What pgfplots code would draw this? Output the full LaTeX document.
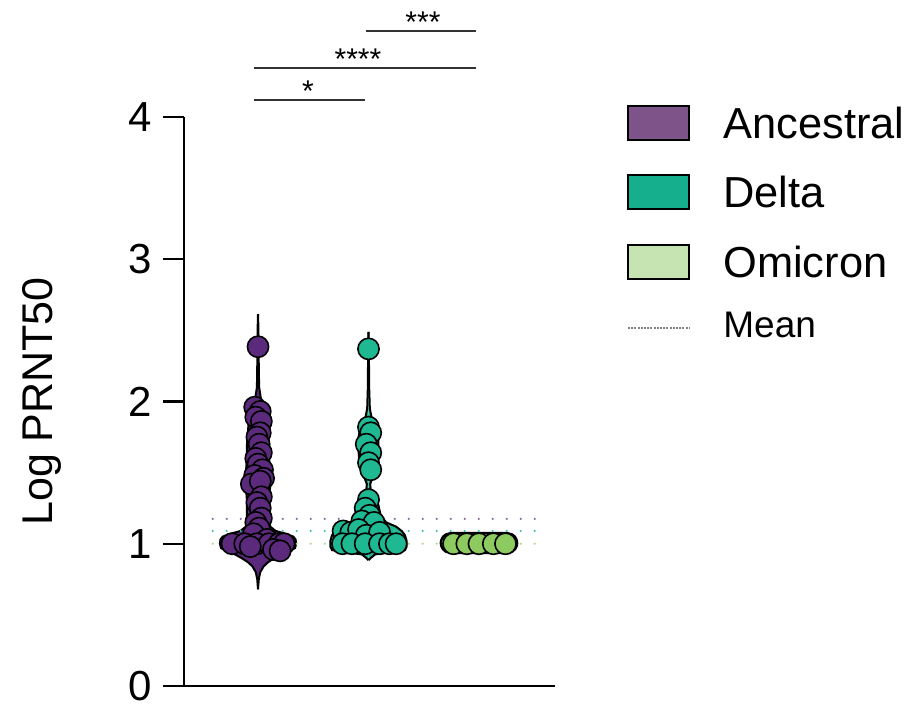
\documentclass[border=0pt]{standalone}
\usepackage{pgfplots}
\usepackage{pgfplotstable}
\pgfplotsset{compat=1.18}
\usepackage{fontspec}
\setmainfont{Liberation Sans}
\definecolor{ancP}{HTML}{5C2A7C}
\definecolor{delP}{HTML}{1EB993}
\definecolor{omiP}{HTML}{8DCB60}
\definecolor{ancL}{HTML}{7D5389}
\definecolor{delL}{HTML}{15AF8E}
\definecolor{omiL}{HTML}{C5E4B1}
\definecolor{ancM}{HTML}{8E6BA0}
\definecolor{delM}{HTML}{3CC3A5}
\definecolor{omiM}{HTML}{A6D88A}

% violin half-width profiles: v = Log PRNT50, w = half width (x units)
\pgfplotstableread{
v w
2.615 0
2.5 0.004
2.3 0.006
2.1 0.01
2.0 0.03
1.95 0.06
1.9 0.08
1.8 0.09
1.7 0.10
1.6 0.10
1.5 0.11
1.4 0.11
1.3 0.10
1.2 0.10
1.12 0.11
1.09 0.16
1.07 0.25
1.05 0.32
1.03 0.34
1.0 0.345
0.97 0.335
0.945 0.28
0.93 0.22
0.9 0.15
0.87 0.09
0.84 0.05
0.8 0.02
0.75 0.007
0.68 0
}\ancV
\pgfplotstableread{
v w
2.49 0
2.3 0.004
2.1 0.006
1.95 0.012
1.88 0.03
1.84 0.07
1.75 0.09
1.65 0.09
1.55 0.08
1.47 0.04
1.42 0.015
1.38 0.02
1.34 0.05
1.27 0.09
1.2 0.11
1.15 0.16
1.12 0.25
1.09 0.30
1.06 0.33
1.02 0.345
0.98 0.345
0.955 0.33
0.94 0.2
0.925 0.06
0.9 0.02
0.885 0
}\delV
\pgfplotstableread{
v w
1.075 0
1.075 0.255
1.065 0.301
1.05 0.324
1.035 0.336
1.02 0.343
1.005 0.345
0.99 0.343
0.975 0.336
0.96 0.324
0.945 0.301
0.935 0.255
0.935 0
}\omiV

\begin{document}
\begin{tikzpicture}
\useasboundingbox (0,0) rectangle (456pt,-352.5pt);
\begin{axis}[
  at={(92pt,-343pt)}, anchor=south west,
  scale only axis, width=185.5pt, height=284.5pt,
  xmin=0.33, xmax=3.688, ymin=0, ymax=4,
  axis x line=bottom, axis y line=left,
  axis line style={-, line width=1.1pt, black},
  xtick=\empty, ytick={0,1,2,3,4},
  tick align=outside, major tick length=10.5pt,
  ytick style={line width=1.1pt, black},
  /pgf/number format/assume math mode=true,
  yticklabel style={font=\fontsize{21}{24}\selectfont, inner sep=0pt, xshift=-5.5pt},
  ylabel={Log PRNT50},
  ylabel style={font=\fontsize{21.5}{24}\selectfont, at={(axis description cs:-0.383,0.5)}, anchor=center},
  clip=false,
]
% violins
\addplot[fill=ancP, draw=none] table[x expr=1+\thisrow{w}, y=v] {\ancV} -- cycle;
\addplot[fill=ancP, draw=none] table[x expr=1-\thisrow{w}, y=v] {\ancV} -- cycle;
\addplot[black, line width=1pt] table[x expr=1+\thisrow{w}, y=v] {\ancV};
\addplot[black, line width=1pt] table[x expr=1-\thisrow{w}, y=v] {\ancV};
\addplot[fill=delP, draw=none] table[x expr=2+\thisrow{w}, y=v] {\delV} -- cycle;
\addplot[fill=delP, draw=none] table[x expr=2-\thisrow{w}, y=v] {\delV} -- cycle;
\addplot[black, line width=1pt] table[x expr=2+\thisrow{w}, y=v] {\delV};
\addplot[black, line width=1pt] table[x expr=2-\thisrow{w}, y=v] {\delV};
\addplot[fill=omiP, draw=none] table[x expr=3+\thisrow{w}, y=v] {\omiV} -- cycle;
\addplot[fill=omiP, draw=none] table[x expr=3-\thisrow{w}, y=v] {\omiV} -- cycle;
\addplot[black, line width=1.2pt] table[x expr=3+\thisrow{w}, y=v] {\omiV};
\addplot[black, line width=1.2pt] table[x expr=3-\thisrow{w}, y=v] {\omiV};
% means
\addplot[ancM, line width=1.2pt, line cap=round, dash pattern=on 0pt off 7pt] coordinates {(0.59,1.175) (3.61,1.175)};
\addplot[delM, line width=1.2pt, line cap=round, dash pattern=on 0pt off 7pt] coordinates {(0.59,1.09) (3.61,1.09)};
\addplot[omiM, line width=1.2pt, line cap=round, dash pattern=on 0pt off 7pt] coordinates {(0.59,1.0) (3.61,1.0)};
% points
\addplot[only marks, mark=*, mark size=5.3pt, mark options={fill=ancP, draw=black, line width=0.8pt}] coordinates {
(1.00,2.385)
(0.97,1.96) (1.02,1.93) (0.98,1.89) (1.03,1.86)
(1.02,1.78) (0.99,1.75)
(1.01,1.70) (1.03,1.64) (0.98,1.60)
(1.00,1.56) (1.04,1.52) (0.97,1.48) (1.05,1.46) (0.94,1.42) (1.02,1.44)
(1.03,1.33) (0.99,1.29) (1.02,1.25)
(1.03,1.18) (0.98,1.15) (1.01,1.11)
(0.96,1.07) (1.08,1.03)
(0.765,1.0) (0.88,1.0) (0.99,1.0) (1.10,1.0) (1.19,1.0) (1.235,1.0)
(1.14,0.96) (1.20,0.95) (0.93,0.98)
};
\addplot[only marks, mark=*, mark size=5.3pt, mark options={fill=delP, draw=black, line width=0.8pt}] coordinates {
(2.00,2.37)
(2.00,1.82) (2.02,1.78) (1.98,1.70) (2.02,1.64) (2.00,1.57) (2.02,1.52)
(2.00,1.31) (1.97,1.25) (2.01,1.20) (1.94,1.16) (2.05,1.15)
(1.77,1.09) (1.84,1.08) (1.91,1.10) (1.98,1.06) (2.10,1.08)
(1.765,1.0) (1.85,1.0) (1.97,1.0) (2.10,1.0) (2.19,1.0) (2.25,1.0)
};
\addplot[only marks, mark=*, mark size=5.3pt, mark options={fill=omiP, draw=black, line width=0.8pt}] coordinates {
(2.77,1.0) (2.89,1.0) (3.0,1.0) (3.13,1.0) (3.24,1.0)
};
\end{axis}
\begin{scope}[x=0.5pt,y=-0.5pt]
% significance bars
\draw[line width=0.6pt, black!80] (366,31) -- (476,31);
\draw[line width=0.6pt, black!80] (254,68) -- (476,68);
\draw[line width=0.6pt, black!80] (254,100) -- (365,100);
\node[anchor=base, inner sep=0pt, font=\fontsize{15}{17}\selectfont] at (423,33) {***};
\node[anchor=base, inner sep=0pt, font=\fontsize{15}{17}\selectfont] at (358,70) {****};
\node[anchor=base, inner sep=0pt, font=\fontsize{15}{17}\selectfont] at (308,102) {*};
% legend
\draw[line width=1pt, fill=ancL] (628,106) rectangle (689,140);
\draw[line width=1pt, fill=delL] (628,175) rectangle (689,209);
\draw[line width=1pt, fill=omiL] (628,245) rectangle (689,279);
\draw[line width=0.8pt, gray, dash pattern=on 1pt off 0.6pt] (628,328) -- (689,328);
\node[anchor=west, inner sep=0pt, font=\fontsize{21.7}{24}\selectfont] at (723,123) {Ancestral};
\node[anchor=west, inner sep=0pt, font=\fontsize{21.7}{24}\selectfont] at (723,192) {Delta};
\node[anchor=west, inner sep=0pt, font=\fontsize{21.7}{24}\selectfont] at (723,262) {Omicron};
\node[anchor=west, inner sep=0pt, font=\fontsize{18.5}{22}\selectfont] at (723,325) {Mean};
\end{scope}
\end{tikzpicture}
\end{document}
